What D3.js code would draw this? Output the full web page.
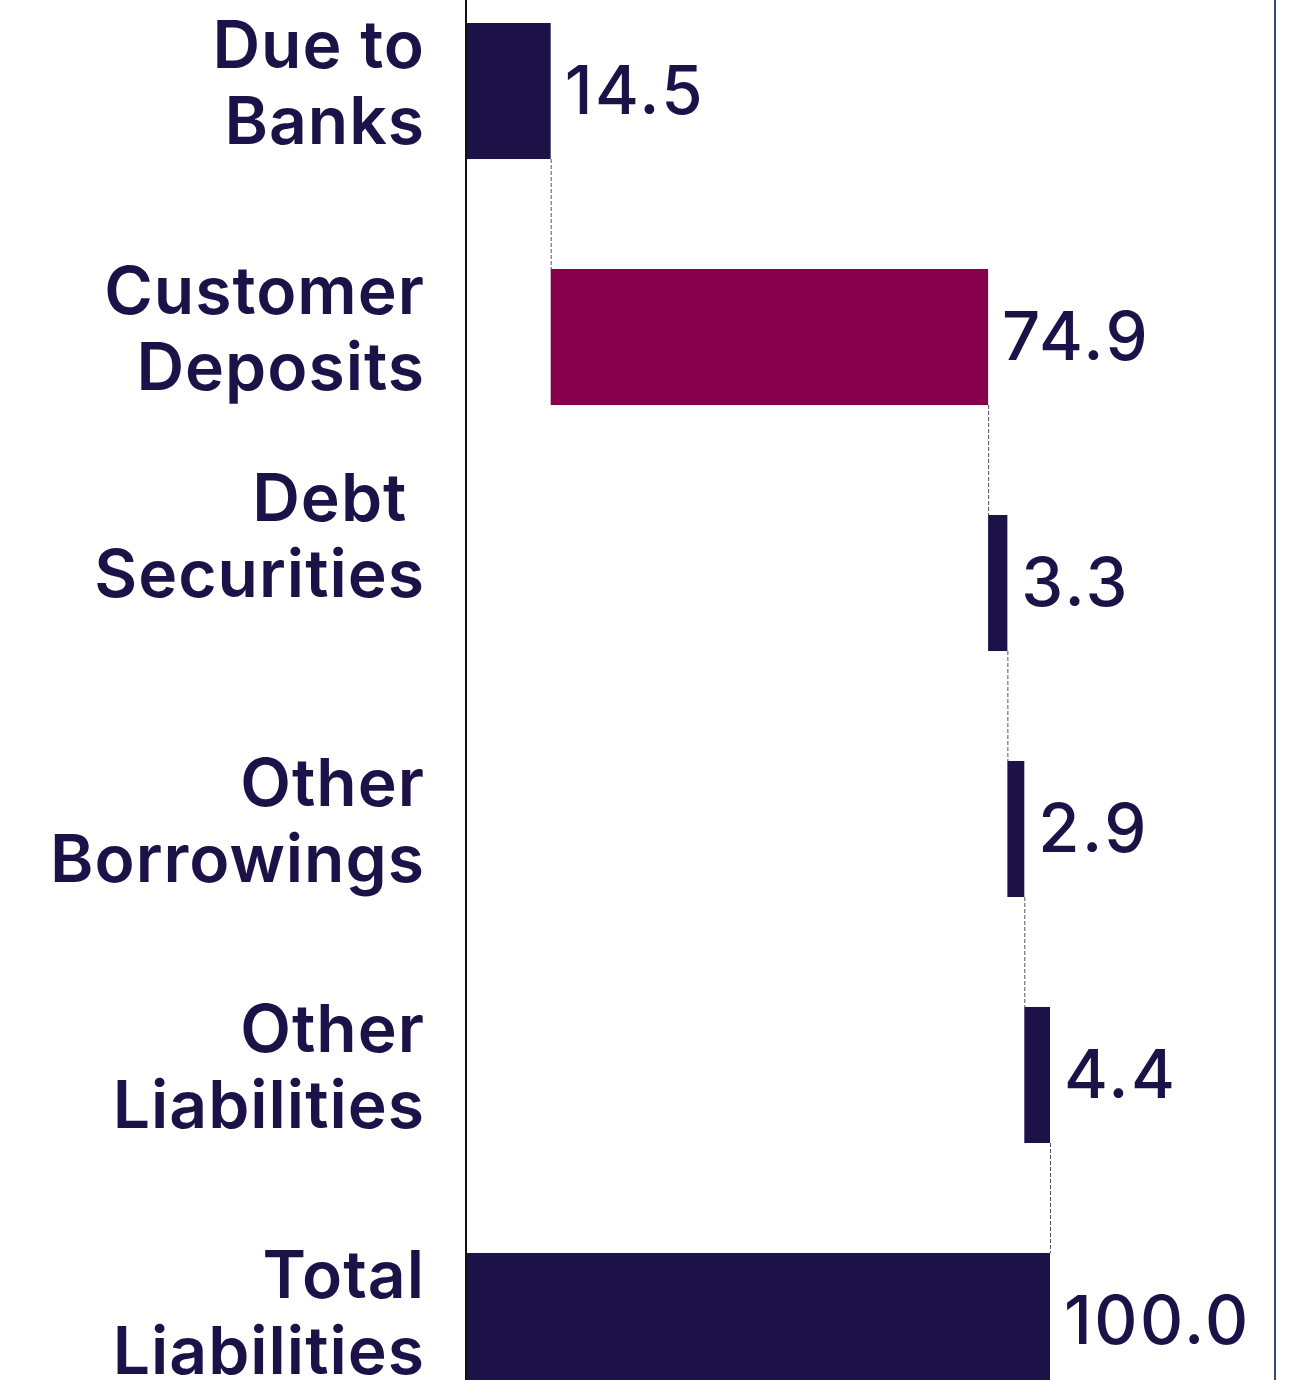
<!DOCTYPE html>
<html>
<head>
<meta charset="utf-8">
<script src="https://cdn.jsdelivr.net/npm/d3@7"></script>
<style>
  html, body { margin: 0; padding: 0; background: #fff; overflow: hidden; }
  svg { display: block; }
</style>
</head>
<body>
<svg id="chart" width="1307" height="1380"></svg>
<script>
// Liabilities breakdown, % of total
const categories = [
  ["Due to", "Banks"],
  ["Customer", "Deposits"],
  ["Debt ", "Securities"],
  ["Other", "Borrowings"],
  ["Other", "Liabilities"],
  ["Total", "Liabilities"]
];
const values = [14.5, 74.9, 3.3, 2.9, 4.4, 100.0];
const isTotal = [false, false, false, false, false, true];
const barColors = ["#1d1248", "#86004c", "#1d1248", "#1d1248", "#1d1248", "#1d1248"];

const W = 1307, H = 1380;
const navy = "#1d1248";
const fontFamily = "Inter, 'Open Sans', sans-serif";

const svg = d3.select("#chart");

// running start/end of each waterfall step
let running = 0;
const steps = values.map((v, i) => {
  let start, end;
  if (isTotal[i]) { start = 0; end = v; running = v; }
  else { start = running; end = running + v; running = end; }
  return { i, key: String(i), label: categories[i], value: v, start, end, color: barColors[i] };
});

const x = d3.scaleLinear().domain([0, 100]).range([466, 1050]);
const y = d3.scaleBand()
  .domain(steps.map(d => d.key))
  .range([23, 1389])
  .paddingInner(0.447)
  .paddingOuter(0);

// connectors between consecutive steps
svg.append("g").selectAll("line")
  .data(steps.slice(0, -1))
  .join("line")
  .attr("x1", d => x(d.end) + 0.5)
  .attr("x2", d => x(d.end) + 0.5)
  .attr("y1", d => y(d.key) + y.bandwidth())
  .attr("y2", d => y(steps[d.i + 1].key))
  .attr("stroke", "#555")
  .attr("stroke-width", 1)
  .attr("stroke-dasharray", "4,2");

// bars
svg.append("g").selectAll("rect")
  .data(steps)
  .join("rect")
  .attr("x", d => x(d.start))
  .attr("width", d => x(d.end) - x(d.start))
  .attr("y", d => y(d.key))
  .attr("height", y.bandwidth())
  .attr("fill", d => d.color);

// value axis baseline and right frame
svg.append("line")
  .attr("x1", x(0)).attr("x2", x(0))
  .attr("y1", 0).attr("y2", H)
  .attr("stroke", "#111").attr("stroke-width", 2);
svg.append("line")
  .attr("x1", 1275).attr("x2", 1275)
  .attr("y1", 0).attr("y2", H)
  .attr("stroke", "#2f4d68").attr("stroke-width", 2);

// value labels
svg.append("g").selectAll("text")
  .data(steps)
  .join("text")
  .attr("x", d => x(d.end) + 14)
  .attr("y", d => y(d.key) + y.bandwidth() / 2 + 23)
  .attr("fill", navy)
  .attr("font-family", fontFamily)
  .attr("font-size", 67)
  .attr("font-weight", 500)
  .attr("letter-spacing", 2.5)
  .text(d => d3.format(".1f")(d.value));

// category labels (two lines each)
const labelShift = { "2": -39 };
const lab = svg.append("g").selectAll("text")
  .data(steps)
  .join("text")
  .attr("text-anchor", "end")
  .attr("fill", navy)
  .attr("font-family", fontFamily)
  .attr("font-size", 66)
  .attr("font-weight", 600)
  .attr("letter-spacing", 1)
  .style("white-space", "pre");
lab.each(function(d) {
  const cy = y(d.key) + y.bandwidth() / 2 + (labelShift[d.key] || 0);
  const t = d3.select(this);
  d.label.forEach((line, j) => {
    t.append("tspan")
      .attr("x", 425)
      .attr("y", cy - 23 + j * 76)
      .text(line);
  });
});
</script>
</body>
</html>
